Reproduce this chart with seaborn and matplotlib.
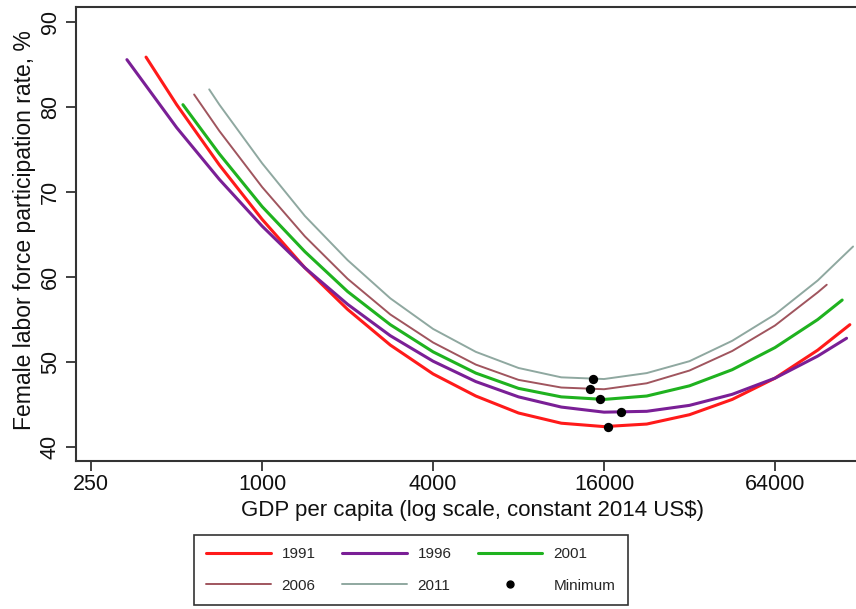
import numpy as np
import pandas as pd
import matplotlib
matplotlib.use("Agg")
import matplotlib.pyplot as plt
import seaborn as sns
from matplotlib.lines import Line2D

# ---- data ----
gdp_1991 = [390, 500, 707, 1000, 1414, 2000, 2828, 4000, 5657, 8000, 11314, 16000, 22627, 32000, 45255, 64000, 90510, 117500]
flfp_1991 = [85.9, 80.3, 73.2, 66.8, 61.1, 56.2, 52.0, 48.6, 46.0, 44.0, 42.8, 42.4, 42.7, 43.8, 45.6, 48.1, 51.4, 54.4]

gdp_1996 = [334, 500, 707, 1000, 1414, 2000, 2828, 4000, 5657, 8000, 11314, 16000, 22627, 32000, 45255, 64000, 90510, 114400]
flfp_1996 = [85.6, 77.6, 71.5, 66.0, 61.1, 56.8, 53.1, 50.1, 47.7, 45.9, 44.7, 44.1, 44.2, 44.9, 46.2, 48.1, 50.7, 52.8]

gdp_2001 = [526, 707, 1000, 1414, 2000, 2828, 4000, 5657, 8000, 11314, 16000, 22627, 32000, 45255, 64000, 90510, 110400]
flfp_2001 = [80.3, 74.5, 68.3, 63.0, 58.3, 54.4, 51.2, 48.7, 46.9, 45.9, 45.6, 46.0, 47.2, 49.1, 51.7, 55.0, 57.3]

gdp_2006 = [576, 707, 1000, 1414, 2000, 2828, 4000, 5657, 8000, 11314, 16000, 22627, 32000, 45255, 64000, 90510, 97400]
flfp_2006 = [81.5, 77.2, 70.6, 64.8, 59.8, 55.6, 52.3, 49.7, 47.9, 47.0, 46.8, 47.5, 49.0, 51.3, 54.3, 58.2, 59.1]

gdp_2011 = [651, 707, 1000, 1414, 2000, 2828, 4000, 5657, 8000, 11314, 16000, 22627, 32000, 45255, 64000, 90510, 120600]
flfp_2011 = [82.1, 80.3, 73.4, 67.2, 62.0, 57.5, 53.9, 51.2, 49.3, 48.2, 48.0, 48.7, 50.1, 52.5, 55.6, 59.6, 63.6]

min_gdp = [16490, 18320, 15490, 14320, 14670]
min_flfp = [42.4, 44.1, 45.6, 46.8, 48.0]

years = ["1991", "1996", "2001", "2006", "2011"]
x_ticks = [250, 1000, 4000, 16000, 64000]
y_ticks = [40, 50, 60, 70, 80, 90]

series = {
    "1991": (gdp_1991, flfp_1991),
    "1996": (gdp_1996, flfp_1996),
    "2001": (gdp_2001, flfp_2001),
    "2006": (gdp_2006, flfp_2006),
    "2011": (gdp_2011, flfp_2011),
}
colors = {"1991": "#ff1a1a", "1996": "#7a1f96", "2001": "#1fb21f",
          "2006": "#a0555e", "2011": "#8fa8a0"}
widths = {"1991": 2.2, "1996": 2.2, "2001": 2.2, "2006": 1.4, "2011": 1.4}

rows = []
for y in years:
    gx, fy = series[y]
    for a, b in zip(gx, fy):
        rows.append({"year": y, "gdp": a, "flfp": b})
df = pd.DataFrame(rows)
dmin = pd.DataFrame({"gdp": min_gdp, "flfp": min_flfp})

sns.set_theme(style="white")
plt.rcParams["font.family"] = ["Liberation Sans", "DejaVu Sans"]

fig = plt.figure(figsize=(8.56, 6.09), dpi=100)
ax = fig.add_axes([76 / 856, 1 - 461 / 609, 1 - 76 / 856, (461 - 7) / 609])

for y in years:
    sns.lineplot(data=df[df["year"] == y], x="gdp", y="flfp", ax=ax,
                 color=colors[y], linewidth=widths[y], estimator=None,
                 sort=False, legend=False)
sns.scatterplot(data=dmin, x="gdp", y="flfp", ax=ax, color="black",
                s=45, edgecolor="black", linewidth=0, zorder=5, legend=False)

ax.set_xscale("log")
ax.set_xlim(221, 123500)
ax.set_ylim(38.35, 91.8)
ax.set_xticks(x_ticks)
ax.set_xticklabels([str(t) for t in x_ticks])
ax.xaxis.set_minor_locator(matplotlib.ticker.NullLocator())
ax.set_yticks(y_ticks)
ax.set_yticklabels([str(t) for t in y_ticks], rotation=90, va="center")

for side in ["left", "bottom", "top"]:
    ax.spines[side].set_color("#333333")
    ax.spines[side].set_linewidth(1.5)
ax.spines["right"].set_visible(False)

ax.tick_params(axis="both", which="major", direction="out", length=7,
               width=1.3, color="#333333", labelsize=15.5, labelcolor="#111111",
               bottom=True, left=True)
ax.tick_params(axis="x", pad=2)
ax.tick_params(axis="y", pad=4)

ax.set_xlabel("GDP per capita (log scale, constant 2014 US$)", fontsize=16,
              color="#111111", va="center")
ax.set_ylabel("Female labor force participation rate, %", fontsize=16.5,
              color="#111111", va="center")
ax.xaxis.set_label_coords(0.508, -0.108)
ax.yaxis.set_label_coords(-0.066, 0.509)
ax.grid(False)

handles = [
    Line2D([], [], color=colors["1991"], lw=2.2),
    Line2D([], [], color=colors["1996"], lw=2.2),
    Line2D([], [], color=colors["2001"], lw=2.2),
    Line2D([], [], color=colors["2006"], lw=1.4),
    Line2D([], [], color=colors["2011"], lw=1.4),
    Line2D([], [], color="black", marker="o", ls="none", markersize=5),
]
labels = ["1991", "1996", "2001", "2006", "2011", "Minimum"]
# order row-wise for 3 columns
order = [0, 3, 1, 4, 2, 5]
leg = fig.legend([handles[i] for i in order], [labels[i] for i in order],
                 ncol=3, loc="upper center", bbox_to_anchor=(0.4796, 1 - 535 / 609),
                 fontsize=11, frameon=True, fancybox=False, handlelength=4.25,
                 handletextpad=0.72, columnspacing=1.7, labelspacing=1.15,
                 borderpad=0.8, borderaxespad=0)
leg.get_frame().set_edgecolor("black")
leg.get_frame().set_linewidth(1.2)

fig.savefig("out.png", dpi=100, facecolor="white")
